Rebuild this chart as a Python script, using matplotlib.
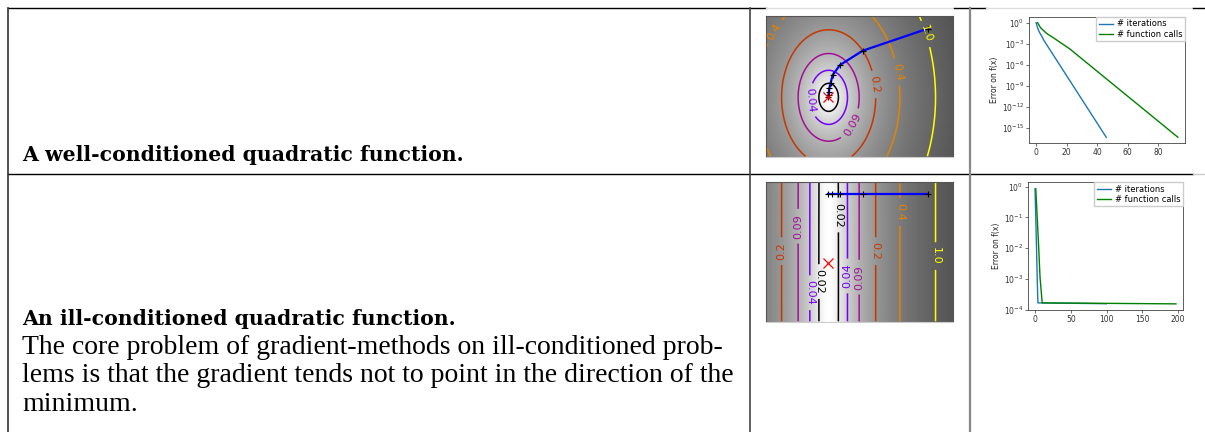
import numpy as np
import matplotlib
matplotlib.use("Agg")
import matplotlib.pyplot as plt
from matplotlib.lines import Line2D

W, H = 1205, 432

# contour settings (log(f + .01) levels and their printed labels)
log_levels = [-4.0, -3.2, -2.4, -1.6, -0.8, 0.0]
level_labels = ["0.02", "0.04", "0.09", "0.2", "0.4", "1.0"]
x_lim = (-1.0, 2.0)
y_lim = (-0.95, 1.3)
minimum = (0.0, 0.0)

# well-conditioned: f = .33 * (x^2 + (0.7 y)^2)
eps_good = 0.7
path_good_x = [1.6, 0.551, 0.187, 0.070, 0.038, 0.016, 0.007, 0.003, 0.0]
path_good_y = [1.1, 0.746, 0.518, 0.359, 0.236, 0.146, 0.085, 0.045, 0.0]
labels_good = [(-0.91, 1.08), (1.58, 1.02), (1.12, 0.41), (0.75, 0.21),
               (0.34, -0.41), (-0.24, -0.04)]

# ill-conditioned: f = .33 * (x^2 + (0.02 y)^2)
eps_bad = 0.02
path_bad_x = [1.6, 0.551, 0.187, 0.054, 0.0]
path_bad_y = [1.1, 1.1, 1.1, 1.1, 1.1]
labels_bad = [(-0.75, 0.19), (-0.48, 0.59), (-0.28, -0.48), (-0.12, -0.30),
              (0.16, 0.77), (0.30, -0.21), (0.50, -0.23), (0.77, 0.19),
              (1.17, 0.82), (1.77, 0.11)]

# convergence curves
good_iter_x = [0, 1, 2, 3, 4, 5, 46]
good_iter_y = [1.04, 0.19, 0.055, 0.022, 0.0095, 0.0035, 5e-17]
good_calls_x = [1, 3, 7, 12, 22, 93]
good_calls_y = [1.04, 0.19, 0.03, 0.006, 2e-4, 5e-17]
good_yticks = [1e0, 1e-3, 1e-6, 1e-9, 1e-12, 1e-15]

bad_iter_x = [0, 1, 2, 3, 4, 100]
bad_iter_y = [0.845, 0.1003, 0.0117, 0.00112, 1.7e-4, 1.6e-4]
bad_calls_x = [1, 3, 5, 7, 10, 197]
bad_calls_y = [0.845, 0.1003, 0.0117, 0.00112, 1.7e-4, 1.58e-4]
bad_yticks = [1e0, 1e-1, 1e-2, 1e-3, 1e-4]

heading_good = "A well-conditioned quadratic function."
heading_bad = "An ill-conditioned quadratic function."
body_bad = ["The core problem of gradient-methods on ill-conditioned prob-",
            "lems is that the gradient tends not to point in the direction of the",
            "minimum."]


def box(x0, y0, x1, y1):
    # pixel box (top-left origin) -> figure fraction rect
    return [x0 / W, 1 - y1 / H, (x1 - x0) / W, (y1 - y0) / H]


def contour_panel(rect, eps, px, py, label_pos):
    ax = fig.add_axes(rect)
    X, Y = np.mgrid[x_lim[0]:x_lim[1]:100j, y_lim[0]:y_lim[1]:100j]
    X, Y = X.T, Y.T
    z = .33 * (X ** 2 + (eps * Y) ** 2)
    log_z = np.log(z + .01)
    ext = [x_lim[0], x_lim[1], y_lim[0], y_lim[1]]
    ax.imshow(log_z, extent=ext, cmap="gray_r", origin="lower", aspect="auto",
              vmax=log_z.min() + 1.5 * np.ptp(log_z))
    cs = ax.contour(log_z, levels=log_levels, extent=ext, cmap="gnuplot",
                    origin="lower", linewidths=1.1)
    ax.clabel(cs, inline=True, fmt=dict(zip(cs.levels, level_labels)),
              fontsize=8, manual=label_pos)
    ax.plot(px, py, "b-", lw=1.6)
    ax.plot(px, py, "k+", ms=4, mew=0.8)
    ax.plot(minimum[0], minimum[1], "rx", ms=6.5, mew=0.9)
    ax.set_xlim(x_lim)
    ax.set_ylim(y_lim)
    ax.set_xticks([])
    ax.set_yticks([])
    for s in ax.spines.values():
        s.set_color("#555555")
        s.set_linewidth(0.8)
    ax.spines["bottom"].set_color("#cccccc")
    return ax


def conv_panel(rect, ix, iy, cx, cy, yticks):
    ax = fig.add_axes(rect)
    ax.semilogy(ix, iy, color="#1f77b4", lw=1.0, label="# iterations")
    ax.semilogy(cx, cy, color="g", lw=1.0, label="# function calls")
    ax.set_yticks(yticks)
    ax.yaxis.set_minor_locator(matplotlib.ticker.NullLocator())
    ax.set_ylabel("Error on f(x)", fontsize=5.5, labelpad=2, color="#222222")
    ax.tick_params(labelsize=5.5, length=2, width=0.5, pad=1.5, colors="#333333")
    for s in ax.spines.values():
        s.set_linewidth(0.6)
        s.set_color("#444444")
    ax.legend(loc="upper right", fontsize=6, handlelength=1.7, borderpad=0.25,
              labelspacing=0.2, borderaxespad=0.05, fancybox=False,
              framealpha=1, edgecolor="#cccccc", handletextpad=0.5)
    return ax


fig = plt.figure(figsize=(W / 100, H / 100), dpi=100)


def rule(x0, y0, x1, y1, color="black", lw=1.0):
    fig.add_artist(Line2D([x0 / W, x1 / W], [1 - y0 / H, 1 - y1 / H],
                          color=color, lw=lw, transform=fig.transFigure))


# table rules
rule(8, 8, 766, 8)
rule(766, 7.5, 954, 7.5, color="#dddddd")
rule(954, 8, 986, 8)
rule(986, 7.5, 1193, 7.5, color="#dddddd")
rule(1193, 8, 1205, 8)
rule(8, 174, 1193, 174)
rule(1193, 174, 1205, 174, color="#cccccc")
rule(8, 8, 8, 432, color="#333333", lw=1.2)
rule(750, 8, 750, 432, color="#444444", lw=1.2)
rule(970, 8, 970, 432, color="#888888", lw=1.6)

fig.text(22 / W, 1 - 161 / H, heading_good, fontsize=14.7, fontweight="bold",
         family="DejaVu Serif", va="baseline")
fig.text(22 / W, 1 - 325 / H, heading_bad, fontsize=14.7, fontweight="bold",
         family="DejaVu Serif", va="baseline")
for i, line in enumerate(body_bad):
    fig.text(22 / W, 1 - (354 + 28.3 * i) / H, line, fontsize=20,
             family="Liberation Serif", va="baseline")

contour_panel(box(766, 16, 953, 157), eps_good, path_good_x, path_good_y, labels_good)
contour_panel(box(766, 182, 953, 322), eps_bad, path_bad_x, path_bad_y, labels_bad)

conv_panel(box(1029, 17, 1185, 143), good_iter_x, good_iter_y,
           good_calls_x, good_calls_y, good_yticks)
ax4 = conv_panel(box(1028, 182, 1183, 310), bad_iter_x, bad_iter_y,
                 bad_calls_x, bad_calls_y, bad_yticks)
ax4.set_ylim(1e-4, 1.4)

fig.savefig("out.png", dpi=100)
